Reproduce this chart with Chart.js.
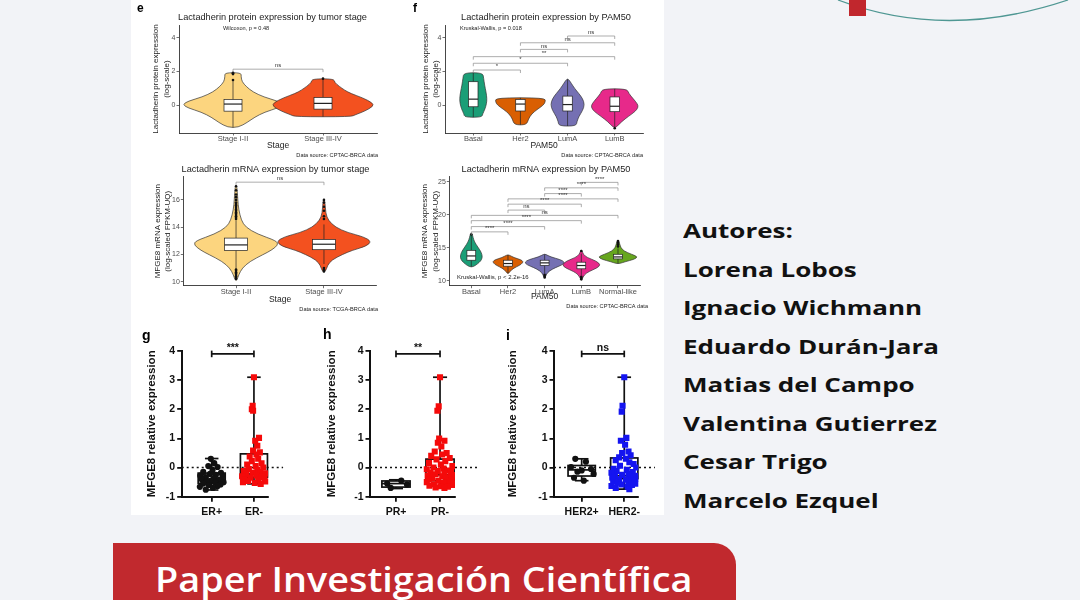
<!DOCTYPE html>
<html>
<head>
<meta charset="utf-8">
<script src="https://cdn.jsdelivr.net/npm/chart.js@4.4.1/dist/chart.umd.min.js"></script>
<style>
  body { margin: 0; width: 1080px; height: 600px; background: #f2f3f7; position: relative; overflow: hidden; }
  #fig { position: absolute; left: 131px; top: 0; width: 533px; height: 515px; background: #fff; }
  canvas { position: absolute; }
  #autores { position: absolute; left: 683px; top: 212px; font: 700 20px "Open Sans", sans-serif; line-height: 38.5px; color: #111; white-space: nowrap; transform: scaleX(1.3); transform-origin: 0 0; }
  #banner { position: absolute; left: 113px; top: 543px; width: 623px; height: 90px; background: #c1292e; border-top-right-radius: 22px; }
  #banner span { position: absolute; left: 42px; top: 13px; color: #fff; font: 600 33.6px "Open Sans", sans-serif; white-space: nowrap; transform: scaleX(1.125); transform-origin: 0 0; }
  #deco { position: absolute; left: 0; top: 0; }
</style>
</head>
<body>
<svg id="deco" width="1080" height="40">
  <path d="M838 0 Q946 41 1068 0" fill="none" stroke="#4f9793" stroke-width="1.3"/>
  <rect x="849" y="0" width="17" height="16" fill="#c1272d"/>
</svg>
<div id="fig"></div>
<canvas id="e1" width="270" height="160" style="left:130px;top:0"></canvas>
<canvas id="f1" width="264" height="160" style="left:400px;top:0"></canvas>
<canvas id="e2" width="270" height="155" style="left:130px;top:160px"></canvas>
<canvas id="f2" width="264" height="155" style="left:400px;top:160px"></canvas>
<canvas id="g" width="179" height="200" style="left:131px;top:320px"></canvas>
<canvas id="h" width="179" height="200" style="left:310px;top:320px"></canvas>
<canvas id="i" width="179" height="200" style="left:485px;top:320px"></canvas>
<div id="autores">Autores:<br>Lorena Lobos<br>Ignacio Wichmann<br>Eduardo Durán-Jara<br>Matias del Campo<br>Valentina Gutierrez<br>Cesar Trigo<br>Marcelo Ezquel</div>
<div id="banner"><span>Paper Investigación Científica</span></div>
<script>
// categorias y colores
const stageCats = ['Stage I-II', 'Stage III-IV'];
const pam4Cats = ['Basal', 'Her2', 'LumA', 'LumB'];
const pam5Cats = ['Basal', 'Her2', 'LumA', 'LumB', 'Normal-like'];
const stageColors = ['#fcd57f', '#f3511f'];
const pamColors = ['#1b9e77', '#d95f02', '#7570b3', '#e7298a', '#66a61e'];

// violines: [valor, semi-ancho]
const vProtStage1 = [[1.93,0.09],[1.7,0.09],[1.4,0.1],[1.1,0.15],[0.8,0.22],[0.5,0.34],[0.25,0.5],[0.05,0.56],[-0.15,0.5],[-0.4,0.35],[-0.7,0.24],[-1.0,0.16],[-1.3,0.06]];
const vProtStage2 = [[1.57,0.12],[1.35,0.13],[1.13,0.18],[0.9,0.24],[0.7,0.31],[0.45,0.44],[0.15,0.55],[-0.05,0.56],[-0.35,0.46],[-0.55,0.36],[-0.67,0.31]];
const boxProtStage = [[-1.3,-0.34,0.08,0.35,1.45],[-0.67,-0.22,0.12,0.47,1.57]];
const outProtStage = [[1.5,1.85,1.9,1.93],[1.58]];
const sigProtStage = [[1,2,2.14,'ns']];

const vProtBasal = [[1.93,0.2],[1.6,0.22],[1.2,0.24],[0.8,0.27],[0.4,0.29],[0.1,0.28],[-0.2,0.25],[-0.5,0.2],[-0.7,0.18]];
const vProtHer2 = [[0.45,0.52],[0.2,0.53],[0.0,0.48],[-0.25,0.35],[-0.5,0.24],[-0.8,0.17],[-1.15,0.13]];
const vProtLumA = [[1.55,0.02],[1.3,0.08],[1.0,0.15],[0.7,0.24],[0.4,0.32],[0.05,0.36],[-0.3,0.32],[-0.65,0.24],[-0.95,0.2],[-1.22,0.18]];
const vProtLumB = [[0.98,0.26],[0.7,0.3],[0.4,0.39],[0.1,0.48],[-0.1,0.5],[-0.35,0.44],[-0.65,0.29],[-0.95,0.15],[-1.3,0.03]];
const boxProtPam = [[-0.7,-0.08,0.37,1.4,1.93],[-1.15,-0.33,0.08,0.35,0.45],[-1.22,-0.33,0.05,0.55,1.55],[-1.3,-0.37,-0.05,0.5,0.98]];
const outProtPam = [[],[],[],[-1.35]];
const sigProtPam = [[3,4,4.1,'ns'],[2,4,3.7,'ns'],[2,3,3.31,'ns'],[1,4,2.88,'**'],[1,3,2.49,'*'],[1,2,2.09,'*']];

const vMrnaStage1 = [[17.05,0.01],[16,0.02],[15.3,0.03],[14.5,0.06],[14.0,0.11],[13.5,0.24],[13.0,0.46],[12.7,0.48],[12.3,0.4],[12.0,0.31],[11.5,0.16],[11.0,0.07],[10.5,0.03],[10.1,0.01]];
const vMrnaStage2 = [[16.0,0.01],[15.0,0.02],[14.5,0.05],[14.0,0.13],[13.6,0.27],[13.3,0.45],[12.95,0.54],[12.6,0.48],[12.3,0.32],[12.0,0.21],[11.6,0.09],[11.2,0.04],[10.75,0.02]];
const boxMrnaStage = [[10.95,12.3,12.7,13.2,14.5],[11.3,12.35,12.75,13.1,14.2]];
const outMrnaStage = [[14.6,14.7,14.8,14.9,15.0,15.1,15.2,15.3,15.4,15.5,15.6,15.7,15.8,16.0,16.2,16.4,16.7,17.0,10.9,10.8,10.7,10.6,10.5,10.4,10.3,10.2],[14.6,14.8,15.2,15.5,15.8,16.0,11.0,10.9,10.8,10.75]];
const sigMrnaStage = [[1,2,17.3,'ns']];

const vMrnaBasal = [[17.2,0.02],[16.5,0.05],[16,0.08],[15.5,0.13],[15,0.19],[14.5,0.25],[14,0.29],[13.5,0.3],[13,0.26],[12.5,0.16],[12.1,0.05]];
const vMrnaHer2 = [[13.9,0.03],[13.5,0.16],[13.2,0.34],[12.9,0.42],[12.5,0.37],[12.1,0.23],[11.7,0.1],[11.1,0.02]];
const vMrnaLumA = [[14.0,0.03],[13.6,0.16],[13.2,0.43],[12.8,0.55],[12.4,0.48],[12.0,0.3],[11.5,0.13],[11.0,0.05],[10.5,0.02]];
const vMrnaLumB = [[14.6,0.02],[14,0.05],[13.5,0.16],[13.0,0.4],[12.4,0.53],[11.9,0.42],[11.4,0.21],[10.9,0.08],[10.2,0.02]];
const vMrnaNormal = [[16.1,0.02],[15.5,0.05],[15.0,0.08],[14.5,0.16],[14.0,0.37],[13.6,0.55],[13.2,0.42],[12.9,0.21],[12.6,0.05]];
const boxMrnaPam = [[12.1,13.1,13.75,14.6,16.8],[11.1,12.2,12.6,13.1,13.9],[11.1,12.3,12.7,13.1,14.0],[10.8,11.8,12.3,12.8,14.1],[12.6,13.3,13.6,14.0,14.9]];
const outMrnaPam = [[17.0],[],[10.5,10.7,10.9],[14.5,10.2,10.4,10.6],[15.2,15.5,15.8,16.0]];
const sigMrnaPam = [[4,5,24.9,'****'],[3,5,24.07,'****'],[3,4,23.2,'****'],[2,5,22.4,'****'],[2,4,21.6,'****'],[2,3,20.7,'ns'],[1,5,19.9,'ns'],[1,4,19.1,'****'],[1,3,18.2,'****'],[1,2,17.4,'****']];

// qPCR (g, h, i)
const erCats = ['ER+', 'ER-'];
const prCats = ['PR+', 'PR-'];
const her2Cats = ['HER2+', 'HER2-'];
const erPosVals = [0.3,0.15,0.05,0.02,-0.08,-0.15,-0.18,-0.22,-0.25,-0.28,-0.3,-0.33,-0.36,-0.4,-0.42,-0.45,-0.47,-0.5,-0.52,-0.55,-0.58,-0.6,-0.63,-0.66,-0.7,-0.76];
const erPosJit = [-0.02,0.06,-0.08,0.14,0.02,-0.2,0.22,-0.04,0.1,-0.27,0.26,-0.14,0.05,-0.24,0.17,-0.02,-0.12,0.28,0.09,-0.2,0.21,-0.07,0.14,-0.28,0.03,-0.14];
const erNegVals = [3.1,2.12,2.0,1.95,1.02,0.92,0.75,0.58,0.52,0.45,0.38,0.3,0.22,0.15,0.1,0.05,0.0,-0.05,-0.08,-0.12,-0.15,-0.18,-0.2,-0.24,-0.27,-0.3,-0.32,-0.35,-0.38,-0.4,-0.43,-0.46,-0.48,-0.5,-0.53,-0.56];
const erNegJit = [0,-0.03,-0.05,-0.02,0.12,0.03,0.08,-0.02,0.14,0.06,-0.1,0.1,-0.05,0.18,-0.16,0.04,0.22,-0.12,0.08,-0.24,0.15,-0.03,0.27,-0.18,0.06,-0.28,0.19,-0.08,0.25,-0.22,0.1,-0.14,0.28,-0.26,0.02,0.16];
const prPosVals = [-0.45,-0.55,-0.58,-0.7];
const prPosJit = [0.12,-0.2,0.25,-0.12];
const prNegVals = [3.1,2.1,1.95,1.0,0.92,0.85,0.72,0.55,0.5,0.45,0.4,0.33,0.28,0.22,0.16,0.1,0.05,0.0,-0.03,-0.06,-0.1,-0.12,-0.15,-0.18,-0.2,-0.23,-0.26,-0.28,-0.3,-0.33,-0.36,-0.38,-0.4,-0.43,-0.45,-0.48,-0.5,-0.52,-0.55,-0.57,-0.6,-0.62,-0.64,-0.66,-0.68,-0.7];
const prNegJit = [0,-0.03,-0.06,-0.02,0.1,-0.05,0.03,-0.12,0.15,0.05,-0.2,0.22,-0.08,0.12,-0.25,0.02,0.28,-0.15,0.08,-0.3,0.18,-0.05,0.25,-0.22,0.1,-0.1,0.3,-0.28,0.05,0.2,-0.18,0.13,-0.26,0.27,-0.04,0.16,-0.3,0.08,0.24,-0.14,0.3,-0.24,0.02,0.18,-0.1,0.1];
const her2PosVals = [0.3,0.2,0.02,-0.05,-0.1,-0.14,-0.22,-0.35,-0.45];
const her2PosJit = [-0.15,0.1,-0.25,0.22,0.0,-0.1,0.28,-0.18,0.05];
const her2NegVals = [3.1,2.12,1.92,1.02,0.92,0.78,0.55,0.5,0.42,0.35,0.3,0.25,0.18,0.12,0.06,0.0,-0.04,-0.08,-0.12,-0.15,-0.18,-0.22,-0.25,-0.28,-0.3,-0.32,-0.35,-0.38,-0.4,-0.42,-0.45,-0.48,-0.5,-0.52,-0.55,-0.58,-0.6,-0.63,-0.66,-0.7,-0.74];
const her2NegJit = [0,-0.04,-0.06,0.05,-0.08,0.02,0.1,-0.05,0.15,-0.12,0.04,-0.2,0.12,0.22,-0.1,0.28,-0.25,0.06,-0.18,0.2,-0.3,0.1,-0.05,0.26,-0.22,0.14,-0.28,0.3,-0.12,0.04,0.22,-0.26,0.1,-0.16,0.28,-0.06,0.18,-0.3,0.08,-0.2,0.12];
const boxEr = [[-0.77,-0.54,-0.4,-0.19,0.31],[-0.56,-0.33,-0.22,0.47,3.1]];
const boxPr = [[-0.72,-0.67,-0.55,-0.46,-0.42],[-0.7,-0.45,-0.25,0.29,3.1]];
const boxHer2 = [[-0.45,-0.29,-0.08,0.07,0.3],[-0.74,-0.38,-0.28,0.33,3.1]];
const qTicks = [-1, 0, 1, 2, 3, 4];

const FF = '"Liberation Sans", Arial, sans-serif';
Chart.defaults.font.family = FF;

function line(ctx, x1, y1, x2, y2) {
  ctx.beginPath(); ctx.moveTo(x1, y1); ctx.lineTo(x2, y2); ctx.stroke();
}

function smoothClosed(ctx, pts) {
  const n = pts.length;
  const mid = (a, b) => [(a[0] + b[0]) / 2, (a[1] + b[1]) / 2];
  const m = mid(pts[n - 1], pts[0]);
  ctx.beginPath();
  ctx.moveTo(m[0], m[1]);
  for (let k = 0; k < n; k++) {
    const p = pts[k], q = mid(p, pts[(k + 1) % n]);
    ctx.quadraticCurveTo(p[0], p[1], q[0], q[1]);
  }
  ctx.closePath();
}

// textos sueltos (titulos, letras de panel, fuentes)
function notesPlugin(notes) {
  return {
    id: 'notes',
    afterDraw(chart) {
      const ctx = chart.ctx;
      ctx.save();
      notes.forEach(n => {
        ctx.font = n.font;
        ctx.fillStyle = n.color || '#222';
        ctx.textAlign = n.align || 'left';
        ctx.textBaseline = 'middle';
        ctx.fillText(n.text, n.x, n.y);
      });
      ctx.restore();
    }
  };
}

// violines + boxplot estilo ggplot
function violinPlugin(violins, colors, boxes, boxHalf, sigs) {
  return {
    id: 'violins',
    beforeDatasetsDraw(chart) {
      const {ctx, scales: {x, y}} = chart;
      ctx.save();
      violins.forEach((v, i) => {
        const pos = i + 1;
        const right = v.map(([val, w]) => [x.getPixelForValue(pos + w), y.getPixelForValue(val)]);
        const left = v.map(([val, w]) => [x.getPixelForValue(pos - w), y.getPixelForValue(val)]).reverse();
        smoothClosed(ctx, right.concat(left));
        ctx.fillStyle = colors[i];
        ctx.fill();
        ctx.lineWidth = 0.7;
        ctx.strokeStyle = '#333';
        ctx.stroke();
      });
      boxes.forEach((b, i) => {
        const c = x.getPixelForValue(i + 1);
        const hw = x.getPixelForValue(i + 1 + boxHalf) - c;
        const [lo, q1, md, q3, hi] = b.map(v => y.getPixelForValue(v));
        ctx.strokeStyle = '#222';
        ctx.lineWidth = 0.7;
        line(ctx, c, lo, c, q1);
        line(ctx, c, q3, c, hi);
        ctx.fillStyle = '#fff';
        ctx.fillRect(c - hw, q3, 2 * hw, q1 - q3);
        ctx.strokeRect(c - hw, q3, 2 * hw, q1 - q3);
        ctx.lineWidth = 1.2;
        line(ctx, c - hw, md, c + hw, md);
      });
      ctx.restore();
    },
    afterDatasetsDraw(chart) {
      const {ctx, scales: {x, y}} = chart;
      ctx.save();
      ctx.strokeStyle = '#8a8a8a';
      ctx.lineWidth = 0.7;
      ctx.fillStyle = '#333';
      ctx.font = '6px ' + FF;
      ctx.textAlign = 'center';
      ctx.textBaseline = 'bottom';
      sigs.forEach(([a, b, v, lab]) => {
        const x1 = x.getPixelForValue(a), x2 = x.getPixelForValue(b), yy = y.getPixelForValue(v);
        ctx.beginPath();
        ctx.moveTo(x1, yy + 3); ctx.lineTo(x1, yy); ctx.lineTo(x2, yy); ctx.lineTo(x2, yy + 3);
        ctx.stroke();
        ctx.fillText(lab, (x1 + x2) / 2, yy - 0.5);
      });
      ctx.restore();
    }
  };
}

// boxplot estilo GraphPad
function prismPlugin(boxes, sig, refEnd) {
  return {
    id: 'prism',
    beforeDatasetsDraw(chart) {
      const {ctx, scales: {x, y}, chartArea: a} = chart;
      ctx.save();
      ctx.strokeStyle = '#111';
      ctx.setLineDash([2, 3]);
      ctx.lineWidth = 1.5;
      line(ctx, a.left, y.getPixelForValue(0), x.getPixelForValue(refEnd), y.getPixelForValue(0));
      ctx.setLineDash([]);
      ctx.lineWidth = 1.7;
      boxes.forEach((b, i) => {
        const c = x.getPixelForValue(i + 1);
        const hw = x.getPixelForValue(i + 1.32) - c, cw = x.getPixelForValue(i + 1.16) - c;
        const [lo, q1, md, q3, hi] = b.map(v => y.getPixelForValue(v));
        ctx.strokeRect(c - hw, q3, 2 * hw, q1 - q3);
        line(ctx, c - hw, md, c + hw, md);
        line(ctx, c, lo, c, q1);
        line(ctx, c, q3, c, hi);
        line(ctx, c - cw, lo, c + cw, lo);
        line(ctx, c - cw, hi, c + cw, hi);
      });
      ctx.restore();
    },
    afterDatasetsDraw(chart) {
      const {ctx, scales: {x, y}} = chart;
      ctx.save();
      ctx.strokeStyle = '#111';
      ctx.lineWidth = 1.7;
      ctx.fillStyle = '#111';
      ctx.font = 'bold 10.5px ' + FF;
      ctx.textAlign = 'center';
      ctx.textBaseline = 'middle';
      sig.forEach(([a, b, v, lab]) => {
        const x1 = x.getPixelForValue(a), x2 = x.getPixelForValue(b), yy = y.getPixelForValue(v);
        line(ctx, x1, yy, x2, yy);
        line(ctx, x1, yy - 3.3, x1, yy + 3.3);
        line(ctx, x2, yy - 3.3, x2, yy + 3.3);
        ctx.fillText(lab, (x1 + x2) / 2, yy - 5.5);
      });
      ctx.restore();
    }
  };
}

function ggScales(cats, xr, yr, yTicks, yTitle, xTitle, g) {
  return {
    x: {
      type: 'linear', min: xr[0], max: xr[1],
      afterBuildTicks: s => { s.ticks = cats.map((c, i) => ({value: i + 1})); },
      afterFit: s => { s.height = g.xH; },
      ticks: { autoSkip: false, maxRotation: 0, padding: 0, color: '#4d4d4d', font: {size: 7.5, lineHeight: 1}, callback: v => cats[v - 1] },
      grid: { drawOnChartArea: false, tickLength: 2.5, color: '#333', lineWidth: 0.7 },
      border: { color: '#333', width: 0.9 },
      title: { display: true, text: xTitle, color: '#222', font: {size: 8.5}, padding: {top: 0, bottom: g.xTP} }
    },
    y: {
      min: yr[0], max: yr[1],
      afterBuildTicks: s => { s.ticks = yTicks.map(v => ({value: v})); },
      afterFit: s => { s.width = g.yW; },
      ticks: { padding: 1, color: '#4d4d4d', font: {size: 7} },
      grid: { drawOnChartArea: false, tickLength: 2.5, color: '#333', lineWidth: 0.7 },
      border: { color: '#333', width: 0.9 },
      title: { display: true, text: yTitle, color: '#222', font: {size: 8, lineHeight: 1.35}, padding: {top: g.yTP, bottom: 0} }
    }
  };
}

function violinChart(id, cats, violins, colors, boxes, outs, sigs, boxHalf, xr, yr, yTicks, yTitle, xTitle, g, notes) {
  return new Chart(document.getElementById(id), {
    type: 'scatter',
    data: {
      datasets: [{
        data: outs.flatMap((arr, i) => arr.map(v => ({x: i + 1, y: v}))),
        pointRadius: 1.3, backgroundColor: '#111', borderColor: '#111', borderWidth: 0
      }]
    },
    options: {
      responsive: false, animation: false, events: [],
      layout: { padding: g.pad },
      plugins: { legend: {display: false}, tooltip: {enabled: false} },
      scales: ggScales(cats, xr, yr, yTicks, yTitle, xTitle, g)
    },
    plugins: [violinPlugin(violins, colors, boxes, boxHalf, sigs), notesPlugin(notes)]
  });
}

function prismChart(id, cats, vals1, jit1, vals2, jit2, color2, boxes, sig, xr, refEnd, g, notes) {
  return new Chart(document.getElementById(id), {
    type: 'scatter',
    data: {
      datasets: [
        { data: vals1.map((v, k) => ({x: 1 + jit1[k], y: v})), pointStyle: 'circle', pointRadius: 3.1,
          backgroundColor: '#111', borderColor: '#111', borderWidth: 0 },
        { data: vals2.map((v, k) => ({x: 2 + jit2[k], y: v})), pointStyle: 'rect', pointRadius: 4.3,
          backgroundColor: color2, borderColor: color2, borderWidth: 0 }
      ]
    },
    options: {
      responsive: false, animation: false, events: [],
      layout: { padding: g.pad },
      plugins: { legend: {display: false}, tooltip: {enabled: false} },
      scales: {
        x: {
          type: 'linear', min: xr[0], max: xr[1],
          afterBuildTicks: s => { s.ticks = cats.map((c, i) => ({value: i + 1})); },
          afterFit: s => { s.height = g.xH; },
          ticks: { autoSkip: false, maxRotation: 0, padding: 5, color: '#111', font: {size: 10.5, weight: 'bold', lineHeight: 1}, callback: v => cats[v - 1] },
          grid: { drawOnChartArea: false, tickLength: 5, color: '#111', lineWidth: 1.8 },
          border: { color: '#111', width: 2 }
        },
        y: {
          min: -1, max: 4,
          afterBuildTicks: s => { s.ticks = qTicks.map(v => ({value: v})); },
          afterFit: s => { s.width = g.yW; },
          ticks: { padding: 2, color: '#111', font: {size: 10.5, weight: 'bold'} },
          grid: { drawOnChartArea: false, tickLength: 4.5, color: '#111', lineWidth: 1.8 },
          border: { color: '#111', width: 2 },
          title: { display: true, text: 'MFGE8 relative expression', color: '#111', font: {size: 11.5, weight: 'bold'}, padding: {top: g.yTP, bottom: 0} }
        }
      }
    },
    plugins: [prismPlugin(boxes, sig, refEnd), notesPlugin(notes)]
  });
}

const tFont = '9.2px ' + FF, sFont = '5.6px ' + FF, lFont = 'bold 12px ' + FF, pFont = 'bold 14px ' + FF;

violinChart('e1', stageCats, [vProtStage1, vProtStage2], stageColors, boxProtStage, outProtStage, sigProtStage, 0.1,
  [0.4, 2.6], [-1.63, 4.75], [0, 2, 4], ['Lactadherin protein expression', '(log-scale)'], 'Stage',
  { pad: {left: 0, top: 25, right: 23, bottom: 0}, yW: 49, xH: 27, yTP: 20.8, xTP: 8.9 },
  [ {text: 'e', x: 7, y: 9, font: lFont, color: '#000'},
    {text: 'Lactadherin protein expression by tumor stage', x: 142.5, y: 17, font: tFont, align: 'center'},
    {text: 'Wilcoxon, p = 0.48', x: 93, y: 28, font: sFont},
    {text: 'Data source: CPTAC-BRCA data', x: 248, y: 155, font: sFont, align: 'right'} ]);

violinChart('f1', pam4Cats, [vProtBasal, vProtHer2, vProtLumA, vProtLumB], pamColors, boxProtPam, outProtPam, sigProtPam, 0.1,
  [0.4, 4.6], [-1.63, 4.75], [0, 2, 4], ['Lactadherin protein expression', '(log-scale)'], 'PAM50',
  { pad: {left: 0, top: 25, right: 21, bottom: 0}, yW: 45, xH: 27, yTP: 19.9, xTP: 8.9 },
  [ {text: 'f', x: 13, y: 9, font: lFont, color: '#000'},
    {text: 'Lactadherin protein expression by PAM50', x: 146, y: 17, font: tFont, align: 'center'},
    {text: 'Kruskal-Wallis, p = 0.018', x: 60, y: 28, font: sFont},
    {text: 'Data source: CPTAC-BRCA data', x: 243, y: 155, font: sFont, align: 'right'} ]);

violinChart('e2', stageCats, [vMrnaStage1, vMrnaStage2], stageColors, boxMrnaStage, outMrnaStage, sigMrnaStage, 0.13,
  [0.4, 2.6], [9.71, 17.7], [10, 12, 14, 16], ['MFGE8 mRNA expression', '(log-scaled FPKM-UQ)'], 'Stage',
  { pad: {left: 0, top: 16.7, right: 23.3, bottom: 0}, yW: 53.3, xH: 29.3, yTP: 22, xTP: 9.9 },
  [ {text: 'Lactadherin mRNA expression by tumor stage', x: 145.5, y: 9, font: tFont, align: 'center'},
    {text: 'Data source: TCGA-BRCA data', x: 248, y: 149, font: sFont, align: 'right'} ]);

violinChart('f2', pam5Cats, [vMrnaBasal, vMrnaHer2, vMrnaLumA, vMrnaLumB, vMrnaNormal], pamColors, boxMrnaPam, outMrnaPam, sigMrnaPam, 0.12,
  [0.4, 5.6], [9.24, 25.76], [10, 15, 20, 25], ['MFGE8 mRNA expression', '(log-scaled FPKM-UQ)'], 'PAM50',
  { pad: {left: 0, top: 16.7, right: 24, bottom: 0}, yW: 49.3, xH: 29.3, yTP: 19.8, xTP: 13.2 },
  [ {text: 'Lactadherin mRNA expression by PAM50', x: 146, y: 9, font: tFont, align: 'center'},
    {text: 'Kruskal-Wallis, p < 2.2e-16', x: 57, y: 117.7, font: '6px ' + FF},
    {text: 'Data source: CPTAC-BRCA data', x: 248, y: 146.7, font: sFont, align: 'right'} ]);

prismChart('g', erCats, erPosVals, erPosJit, erNegVals, erNegJit, '#f50a0a', boxEr, [[1, 2, 3.9, '***']],
  [0.29, 2.34], 2.69, { pad: {left: 0, top: 31, right: 41.7, bottom: 0}, yW: 50.7, xH: 23.3, yTP: 13.8 },
  [ {text: 'g', x: 11, y: 16, font: pFont, color: '#000'} ]);

prismChart('h', prCats, prPosVals, prPosJit, prNegVals, prNegJit, '#f50a0a', boxPr, [[1, 2, 3.9, '**']],
  [0.41, 2.34], 2.86, { pad: {left: 0, top: 31, right: 34, bottom: 0}, yW: 60, xH: 23.3, yTP: 14.8 },
  [ {text: 'h', x: 13, y: 15, font: pFont, color: '#000'} ]);

prismChart('i', her2Cats, her2PosVals, her2PosJit, her2NegVals, her2NegJit, '#1414f0', boxHer2, [[1, 2, 3.9, 'ns']],
  [0.35, 2.33], 2.72, { pad: {left: 0, top: 31, right: 25.7, bottom: 0}, yW: 69, xH: 23.3, yTP: 21.4 },
  [ {text: 'i', x: 21, y: 16, font: pFont, color: '#000'} ]);
</script>
</body>
</html>
